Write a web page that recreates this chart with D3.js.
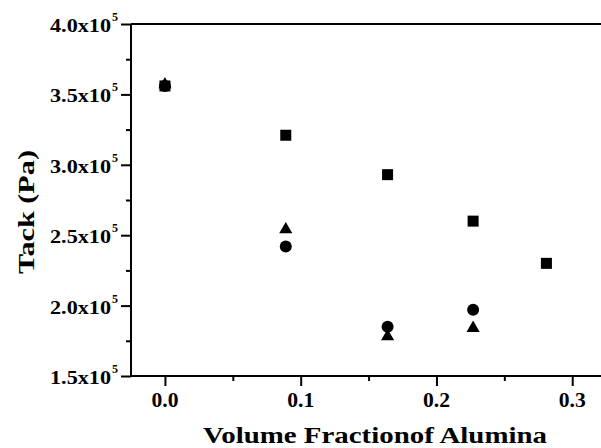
<!DOCTYPE html>
<html>
<head>
<meta charset="utf-8">
<script src="https://cdn.jsdelivr.net/npm/d3@7"></script>
<style>
  html, body { margin: 0; padding: 0; background: #fff; }
  svg { display: block; }
</style>
</head>
<body>
<svg id="chart" width="601" height="448"></svg>
<script>
// Volume fraction of alumina for each sample
const fractions = [0.0, 0.089, 0.164, 0.227, 0.281];
// Tack (Pa) for the three series
const squareSeries   = [3.56e5, 3.21e5, 2.93e5, 2.60e5, 2.30e5];
const circleSeries   = [3.56e5, 2.42e5, 1.85e5, 1.97e5, null];
const triangleSeries = [3.57e5, 2.54e5, 1.78e5, 1.84e5, null];

const xTicks = [0.0, 0.1, 0.2, 0.3];
const xMinorTicks = [0.05, 0.15, 0.25];
const yTicks = [1.5e5, 2.0e5, 2.5e5, 3.0e5, 3.5e5, 4.0e5];
const yMinorTicks = [1.75e5, 2.25e5, 2.75e5, 3.25e5, 3.75e5];

const xTitle = "Volume Fractionof Alumina";
const yTitle = "Tack (Pa)";

(function draw() {
  const FONT = "Liberation Serif";
  const svg = d3.select("#chart");
  const mLeft = 131, mRight = 620, mTop = 24, mBottom = 376;

  const x = d3.scaleLinear().domain([-0.025, 0.3352]).range([mLeft, mRight]);
  const y = d3.scaleLinear().domain([1.5e5, 4.0e5]).range([mBottom, mTop]);

  const label = (sel) => sel.style("font-family", FONT).style("font-weight", "bold").attr("fill", "#000");

  // top frame line
  svg.append("line").attr("x1", mLeft).attr("x2", mRight).attr("y1", mTop).attr("y2", mTop)
    .attr("stroke", "#000").attr("stroke-width", 2);

  // bottom axis (ticks only, labels drawn below)
  const xAxis = svg.append("g").attr("transform", `translate(0,${mBottom})`);
  xAxis.call(d3.axisBottom(x).tickValues(xTicks).tickSize(10).tickFormat(""));
  xAxis.append("g").call(d3.axisBottom(x).tickValues(xMinorTicks).tickSize(5).tickFormat(""));
  xAxis.selectAll("g g .domain").remove();
  xAxis.select(".domain").attr("stroke-width", 2).attr("d", `M${mLeft},0H${mRight}`);
  xAxis.selectAll(".tick line").attr("stroke-width", 2);

  xTicks.forEach(v => {
    svg.append("text").call(label)
      .attr("x", x(v)).attr("y", 407).attr("text-anchor", "middle")
      .style("font-size", "20px").attr("textLength", 27).attr("lengthAdjust", "spacingAndGlyphs")
      .text(d3.format(".1f")(v));
  });

  // left axis
  const yAxis = svg.append("g").attr("transform", `translate(${mLeft},0)`);
  yAxis.call(d3.axisLeft(y).tickValues(yTicks).tickSize(10).tickFormat(""));
  yAxis.append("g").call(d3.axisLeft(y).tickValues(yMinorTicks).tickSize(5).tickFormat(""));
  yAxis.selectAll("g g .domain").remove();
  yAxis.select(".domain").attr("stroke-width", 2).attr("d", `M0,${mBottom}V${mTop}`);
  yAxis.selectAll(".tick line").attr("stroke-width", 2);

  // y tick labels: mantissa x 10 with superscript exponent
  yTicks.forEach(v => {
    svg.append("text").call(label)
      .attr("x", 111).attr("y", y(v) + 8).attr("text-anchor", "end")
      .style("font-size", "19px").attr("textLength", 61).attr("lengthAdjust", "spacingAndGlyphs")
      .text((v / 1e5).toFixed(1) + "x10");
    svg.append("text").call(label)
      .attr("x", 112).attr("y", y(v) - 3).attr("text-anchor", "start")
      .style("font-size", "12px").text("5");
  });

  // axis titles
  svg.append("text").call(label)
    .attr("x", 375).attr("y", 442.5).attr("text-anchor", "middle")
    .style("font-size", "23px").attr("textLength", 344).attr("lengthAdjust", "spacingAndGlyphs")
    .text(xTitle);
  svg.append("text").call(label)
    .attr("transform", `translate(34,212) rotate(-90)`)
    .attr("text-anchor", "middle").style("font-size", "24px")
    .attr("textLength", 124).attr("lengthAdjust", "spacingAndGlyphs")
    .text(yTitle);

  // markers
  const pts = vals => fractions.map((f, i) => ({ f, v: vals[i] })).filter(d => d.v != null);

  svg.append("g").selectAll("rect").data(pts(squareSeries)).join("rect")
    .attr("x", d => x(d.f) - 5.5).attr("y", d => y(d.v) - 5.5)
    .attr("width", 11).attr("height", 11).attr("fill", "#000");

  svg.append("g").selectAll("circle").data(pts(circleSeries)).join("circle")
    .attr("cx", d => x(d.f)).attr("cy", d => y(d.v)).attr("r", 6).attr("fill", "#000");

  const tri = d3.symbol().type(d3.symbolTriangle).size(75);
  svg.append("g").selectAll("path").data(pts(triangleSeries)).join("path")
    .attr("transform", d => `translate(${x(d.f)},${y(d.v)})`)
    .attr("d", tri).attr("fill", "#000");
})();
</script>
</body>
</html>
